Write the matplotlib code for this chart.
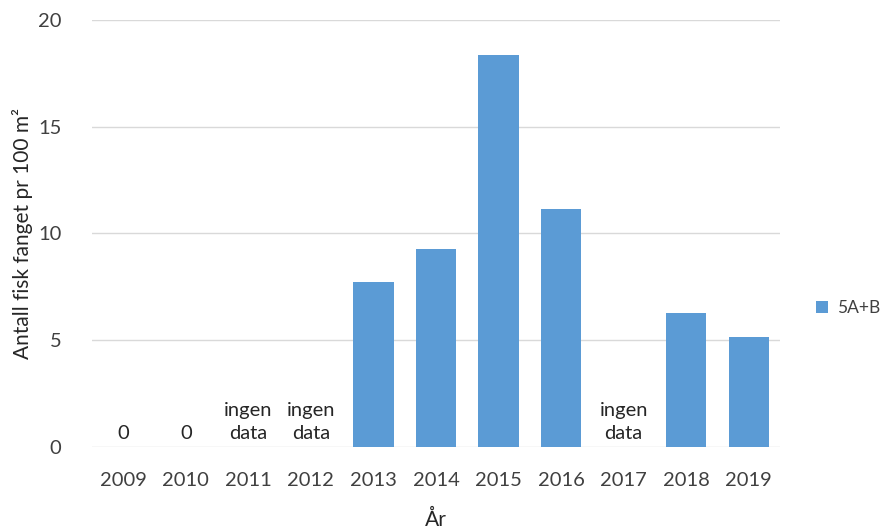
import matplotlib.pyplot as plt
import numpy as np

years = ['2009', '2010', '2011', '2012', '2013', '2014', '2015', '2016', '2017', '2018', '2019']
values = [0, 0, 0, 0, 7.72, 9.27, 18.36, 11.13, 0, 6.28, 5.14]
labels = ['0', '0', 'ingen\ndata', 'ingen\ndata', '', '', '', '', 'ingen\ndata', '', '']

plt.rcParams['font.family'] = ['Lato', 'DejaVu Sans']

fig = plt.figure(figsize=(8.94, 5.31), dpi=100)
ax = fig.add_axes([92 / 894, 1 - 446.7 / 531, 688 / 894, 426.7 / 531])

x = np.arange(len(years))
ax.bar(x, values, width=0.645, color='#5B9BD5', zorder=3, label='5A+B')

for xi, lab in zip(x, labels):
    if lab:
        ax.text(xi, 0.2, lab, ha='center', va='bottom', fontsize=14.5,
                color='#262626', linespacing=1.45)

ax.set_xlim(-0.5, len(years) - 0.5)
ax.set_ylim(0, 20)
ax.set_yticks([0, 5, 10, 15, 20])
ax.set_xticks(x)
ax.set_xticklabels(years)
ax.tick_params(axis='both', length=0, labelsize=14.5, colors='#404040')
ax.tick_params(axis='x', pad=18)
ax.tick_params(axis='y', pad=22)
ax.grid(axis='y', color='#D9D9D9', linewidth=1, zorder=0)
for s in ax.spines.values():
    s.set_visible(False)

ax.set_ylabel('Antall fisk fanget pr 100 m²', fontsize=15, color='#262626')
ax.yaxis.set_label_coords(-0.086, 0.5)
ax.set_xlabel('År', fontsize=15, color='#262626')
ax.xaxis.set_label_coords(0.5, -0.148)

leg = ax.legend(loc='center left', bbox_to_anchor=(1.03, 0.325), frameon=False,
                fontsize=12.5, handlelength=0.7, handleheight=0.7, handletextpad=0.5)
for t in leg.get_texts():
    t.set_color('#404040')

fig.savefig('out.png', dpi=100)
